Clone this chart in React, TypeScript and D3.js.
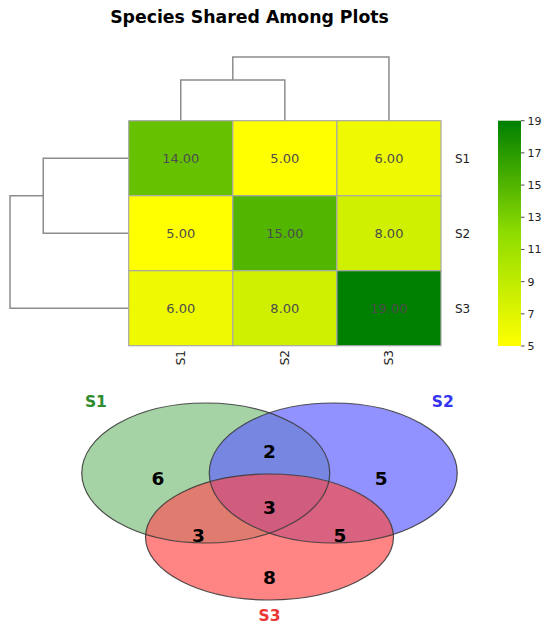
import React from 'react';
import * as d3 from 'd3';

// heatmap data: species shared between plots
const plots = ['S1', 'S2', 'S3'];
const shared = [
  [14, 5, 6],
  [5, 15, 8],
  [6, 8, 19],
];
const colorTicks = [5, 7, 9, 11, 13, 15, 17, 19];

// linkage: first merge S1+S2, then with S3 (relative heights)
const rowMergeHeights = [0.72, 1];
const colMergeHeights = [0.64, 1];

// venn region counts (S1 S2 S3 membership)
const vennSets = ['S1', 'S2', 'S3'];
const vennRegionKeys = ['100', '010', '110', '001', '101', '011', '111'];
const vennRegionCounts = [6, 5, 2, 8, 3, 5, 3];

// layout (unit space) for the venn
const vennLayout = {
  ellipses: [
    { cx: -0.514, cy: 0.457, rx: 1, ry: 1 },
    { cx: 0.514, cy: 0.457, rx: 1, ry: 1 },
    { cx: 0, cy: -0.457, rx: 1, ry: 0.9 },
  ],
  regionLabels: {
    '100': [-0.9, 0.38],
    '010': [0.9, 0.38],
    '110': [0, 0.76],
    '001': [0, -1.04],
    '101': [-0.574, -0.44],
    '011': [0.569, -0.44],
    '111': [0, -0.04],
  } as Record<string, number[]>,
  setLabels: [[-1.4, 1.476], [1.397, 1.476], [0, -1.58]],
};
const regionColors: Record<string, string> = {
  '100': '#a6d3a6',
  '010': '#9191ff',
  '001': '#ff8585',
  '110': '#7786e0',
  '101': '#e07b6f',
  '011': '#d8627f',
  '111': '#d05c7e',
};
const setLabelColors = ['#2e8b2e', '#3333ee', '#ee3535'];

const font = 'DejaVu Sans, Verdana, sans-serif';

const App: React.FC = () => {
  const width = 550;
  const height = 630;

  // heatmap scales
  const x = d3.scaleBand().domain(plots).range([128.7, 441]);
  const y = d3.scaleBand().domain(plots).range([120.7, 345.7]);
  const vmin = d3.min(shared.flat()) as number;
  const vmax = d3.max(shared.flat()) as number;
  const color = d3
    .scaleLinear<string>()
    .domain([vmin, (vmin + vmax) / 2, vmax])
    .range(['#ffff00', '#8fdc00', '#008000'])
    .interpolate(d3.interpolateRgb);

  // colorbar
  const cbY = d3.scaleLinear().domain([vmin, vmax]).range([346, 120.7]);
  const cbX0 = 498;
  const cbX1 = 521;

  // dendrograms
  const topH = d3.scaleLinear().domain([0, d3.max(colMergeHeights) as number]).range([120.7, 57]);
  const leftH = d3.scaleLinear().domain([0, d3.max(rowMergeHeights) as number]).range([128.7, 10]);
  const cx = (p: string) => (x(p) as number) + x.bandwidth() / 2;
  const cy = (p: string) => (y(p) as number) + y.bandwidth() / 2;

  const topPaths: string[] = [];
  {
    const [h1, h2] = colMergeHeights;
    const a = cx(plots[0]);
    const b = cx(plots[1]);
    const c = cx(plots[2]);
    const m = (a + b) / 2;
    topPaths.push(`M${a},${topH(0)}V${topH(h1)}H${b}V${topH(0)}`);
    topPaths.push(`M${m},${topH(h1)}V${topH(h2)}H${c}V${topH(0)}`);
  }
  const leftPaths: string[] = [];
  {
    const [h1, h2] = rowMergeHeights;
    const a = cy(plots[0]);
    const b = cy(plots[1]);
    const c = cy(plots[2]);
    const m = (a + b) / 2;
    leftPaths.push(`M${leftH(0)},${a}H${leftH(h1)}V${b}H${leftH(0)}`);
    leftPaths.push(`M${leftH(h1)},${m}H${leftH(h2)}V${c}H${leftH(0)}`);
  }

  // venn scales
  const vx = d3.scaleLinear().domain([-1, 1]).range([145.5, 393.5]);
  const vy = d3.scaleLinear().domain([-1, 1]).range([575, 435]);
  const ell = vennLayout.ellipses.map((e) => ({
    cx: vx(e.cx),
    cy: vy(e.cy),
    rx: vx(e.rx) - vx(0),
    ry: vy(0) - vy(e.ry),
  }));

  return (
    <svg
      width={width}
      height={height}
      style={{ position: 'absolute', left: 0, top: 0, background: '#fff' }}
      fontFamily={font}
    >
      <defs>
        <linearGradient id="cb" x1="0" y1="1" x2="0" y2="0">
          {d3.range(0, 1.0001, 0.05).map((t) => (
            <stop key={t} offset={t} stopColor={color(vmin + t * (vmax - vmin))} />
          ))}
        </linearGradient>
        {ell.map((e, i) => (
          <clipPath id={`vc${i}`} key={i}>
            <ellipse cx={e.cx} cy={e.cy} rx={e.rx} ry={e.ry} />
          </clipPath>
        ))}
        {vennRegionKeys.map((k) => (
          <mask id={`vm${k}`} key={k}>
            <rect x={0} y={0} width={width} height={height} fill="#fff" />
            {ell.map((e, i) =>
              k[i] === '0' ? (
                <ellipse key={i} cx={e.cx} cy={e.cy} rx={e.rx} ry={e.ry} fill="#000" />
              ) : null
            )}
          </mask>
        ))}
      </defs>

      <text
        x={249.5}
        y={23}
        textAnchor="middle"
        fontSize={17.3}
        fontWeight="bold"
        fill="#000"
      >
        Species Shared Among Plots
      </text>

      {/* dendrograms */}
      <g fill="none" stroke="#8c8c8c" strokeWidth={1.5}>
        {topPaths.map((d, i) => (
          <path key={`t${i}`} d={d} />
        ))}
        {leftPaths.map((d, i) => (
          <path key={`l${i}`} d={d} />
        ))}
      </g>

      {/* heatmap */}
      <g>
        {shared.map((row, i) =>
          row.map((v, j) => (
            <g key={`${i}-${j}`}>
              <rect
                x={x(plots[j])}
                y={y(plots[i])}
                width={x.bandwidth()}
                height={y.bandwidth()}
                fill={color(v)}
                stroke="#a8a8a8"
                strokeWidth={1.2}
              />
              <text
                x={cx(plots[j])}
                y={cy(plots[i])}
                dy="0.36em"
                textAnchor="middle"
                fontSize={13}
                fill="#4d4d4d"
              >
                {v.toFixed(2)}
              </text>
            </g>
          ))
        )}
        {plots.map((p) => (
          <text key={`r${p}`} x={455} y={cy(p)} dy="0.36em" fontSize={12} fill="#222">
            {p}
          </text>
        ))}
        {plots.map((p) => (
          <text
            key={`c${p}`}
            transform={`translate(${cx(p)},350) rotate(-90)`}
            dy="0.36em"
            textAnchor="end"
            fontSize={12}
            fill="#222"
          >
            {p}
          </text>
        ))}
      </g>

      {/* colorbar */}
      <g>
        <rect x={cbX0} y={cbY(vmax)} width={cbX1 - cbX0} height={cbY(vmin) - cbY(vmax)} fill="url(#cb)" />
        {colorTicks.map((t) => (
          <g key={t} transform={`translate(${cbX1},${cbY(t)})`}>
            <line x1={0} x2={3.5} stroke="#222" strokeWidth={0.8} />
            <text x={6.5} dy="0.36em" fontSize={11} fill="#222">
              {t}
            </text>
          </g>
        ))}
      </g>

      {/* venn */}
      <g>
        {vennRegionKeys.map((k) => {
          let node = (
            <rect x={0} y={0} width={width} height={height} fill={regionColors[k]} mask={`url(#vm${k})`} />
          );
          k.split('').forEach((c, i) => {
            if (c === '1') node = <g clipPath={`url(#vc${i})`}>{node}</g>;
          });
          return <g key={k}>{node}</g>;
        })}
        {ell.map((e, i) => (
          <ellipse
            key={i}
            cx={e.cx}
            cy={e.cy}
            rx={e.rx}
            ry={e.ry}
            fill="none"
            stroke="#333"
            strokeOpacity={0.85}
            strokeWidth={1.2}
          />
        ))}
        {vennRegionKeys.map((k, i) => {
          const [lx, ly] = vennLayout.regionLabels[k];
          return (
            <text
              key={k}
              x={vx(lx)}
              y={vy(ly)}
              dy="0.36em"
              textAnchor="middle"
              fontSize={18.5}
              fontWeight="bold"
              fill="#000"
            >
              {vennRegionCounts[i]}
            </text>
          );
        })}
        {vennSets.map((s, i) => {
          const [lx, ly] = vennLayout.setLabels[i];
          return (
            <text
              key={s}
              x={vx(lx)}
              y={vy(ly)}
              dy="0.36em"
              textAnchor="middle"
              fontSize={15.5}
              fontWeight="bold"
              fill={setLabelColors[i]}
            >
              {s}
            </text>
          );
        })}
      </g>
    </svg>
  );
};

export default App;
